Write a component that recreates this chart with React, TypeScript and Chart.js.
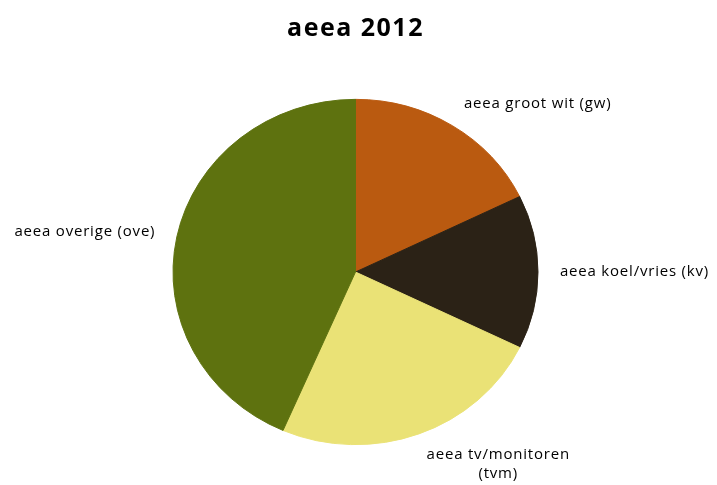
import { useEffect, useRef } from "react";
import { Chart, registerables } from "chart.js";

Chart.register(...registerables);

const categories: string[][] = [
  ["aeea groot wit (gw)"],
  ["aeea koel/vries (kv)"],
  ["aeea tv/monitoren", "(tvm)"],
  ["aeea overige (ove)"],
];
const shares = [17.8, 14.4, 24.3, 43.5];
const sliceColors = ["#BA5A10", "#2B2216", "#EAE276", "#5E720F"];
const chartTitle = "aeea 2012";

const Y_SQUASH = 0.946;
const LABEL_FACTOR = 1.12;
const LINE_H = 19;
const V_SHIFT = 0.6;

const piePlugin = {
  id: "pieLook",
  beforeDraw(chart: any) {
    chart.ctx.letterSpacing = "1.5px";
  },
  beforeDatasetsDraw(chart: any) {
    const ctx = chart.ctx;
    const arc = chart.getDatasetMeta(0).data[0];
    if (!arc) return;
    const { x, y } = arc;
    ctx.save();
    ctx.translate(x, y);
    ctx.scale(1, Y_SQUASH);
    ctx.translate(-x, -y);
  },
  afterDatasetsDraw(chart: any) {
    chart.ctx.restore();
  },
  afterDraw(chart: any) {
    const ctx = chart.ctx;
    const meta = chart.getDatasetMeta(0);
    ctx.save();
    ctx.letterSpacing = "0.8px";
    ctx.font = "15px 'Open Sans'";
    ctx.fillStyle = "#000";
    ctx.textBaseline = "middle";
    ctx.textAlign = "center";
    meta.data.forEach((arc: any, i: number) => {
      const p = arc.getProps(["x", "y", "startAngle", "endAngle", "outerRadius"], true);
      const mid = (p.startAngle + p.endAngle) / 2;
      const c = Math.cos(mid);
      const s = Math.sin(mid);
      const ax = p.x + p.outerRadius * LABEL_FACTOR * c;
      const ay = p.y + p.outerRadius * Y_SQUASH * LABEL_FACTOR * s;
      const lines = categories[i];
      const w = Math.max(...lines.map((l) => ctx.measureText(l).width));
      const h = lines.length * LINE_H;
      let left: number;
      if (c > 0.2) left = ax;
      else if (c < -0.2) left = ax - w;
      else left = ax - w / 2;
      const blockCy = ay + (h / 2) * s * V_SHIFT;
      lines.forEach((l, j) => {
        ctx.fillText(l, left + w / 2, blockCy - h / 2 + LINE_H * (j + 0.5));
      });
    });
    ctx.restore();
    ctx.letterSpacing = "0px";
  },
};

export default function App() {
  const ref = useRef<HTMLCanvasElement | null>(null);
  useEffect(() => {
    document.body.style.margin = "0";
    const canvas = ref.current;
    if (!canvas) return;
    const chart = new Chart(canvas, {
      type: "pie",
      data: {
        labels: categories.map((l) => l.join(" ")),
        datasets: [
          {
            data: shares,
            backgroundColor: sliceColors,
            borderColor: sliceColors,
            borderWidth: 1,
          },
        ],
      },
      options: {
        animation: false,
        responsive: true,
        maintainAspectRatio: false,
        layout: { padding: { left: 0, right: 6, top: 0, bottom: 30 } },
        plugins: {
          legend: { display: false },
          tooltip: { enabled: false },
          title: {
            display: true,
            text: chartTitle,
            color: "#000",
            font: { family: "'Open Sans'", size: 25, weight: "bold", lineHeight: 1.2 },
            padding: { top: 14, bottom: 45 },
          },
        },
      },
      plugins: [piePlugin],
    });
    return () => chart.destroy();
  }, []);
  return (
    <div style={{ position: "relative", width: 717, height: 485 }}>
      <canvas ref={ref} />
    </div>
  );
}
